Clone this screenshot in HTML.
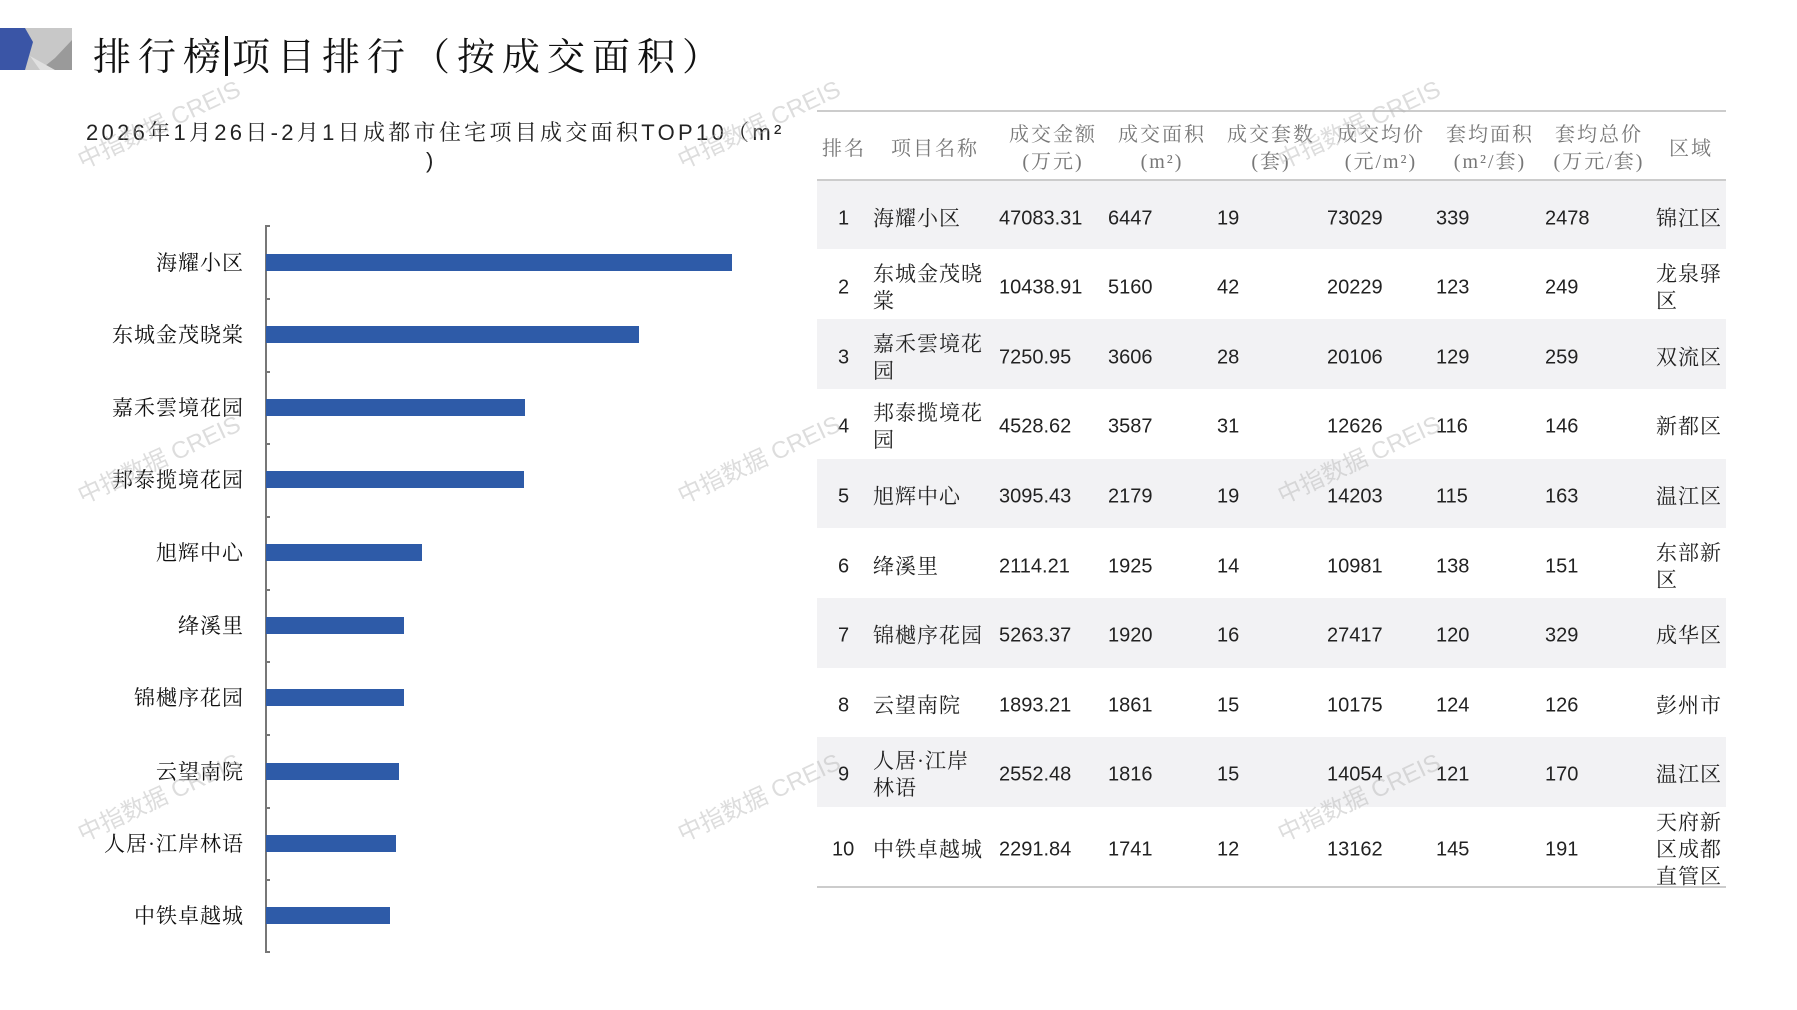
<!DOCTYPE html>
<html><head><meta charset="utf-8"><style>
body{margin:0;width:1797px;height:1010px;background:#fff;position:relative;overflow:hidden;font-family:"Liberation Sans","Noto Serif CJK SC","Noto Sans CJK SC",serif;}
.a{position:absolute;white-space:nowrap;}
.lbl{position:absolute;right:1553px;font-size:21px;letter-spacing:1px;color:#111;transform:translateY(-50%);font-family:"Liberation Serif","Noto Serif CJK SC",serif;}
.bar{position:absolute;left:266px;height:17px;background:#2e5ba8;}
.tk{position:absolute;left:265px;width:5px;height:1.5px;background:#777;}
.row{position:absolute;left:817px;width:909px;}
.c{position:absolute;font-size:20px;color:#222;transform:translateY(-50%);}
.h{position:absolute;font-size:20px;letter-spacing:2px;color:#777;text-align:center;line-height:27px;transform:translateX(-50%);font-family:"Liberation Serif","Noto Serif CJK SC",serif;}
.wm{position:absolute;font-size:24px;color:rgba(180,180,180,0.45);transform:rotate(-25deg);font-family:"Liberation Sans","Noto Sans CJK SC",sans-serif;}
</style></head><body>
<svg class="a" style="left:0;top:28px" width="72" height="42"><rect x="20" y="0" width="52" height="42" fill="#c8c8c8"/><polygon points="40,42 72,42 72,12 55,30" fill="#9a9a9a"/><polygon points="30,28 55,42 40,42" fill="#e0e0e0"/><polygon points="0,0 25,0 33,14 25,42 0,42" fill="#3a55a6"/></svg>
<div class="a" style="left:93px;top:26px;font-size:38px;letter-spacing:7px;color:#111;font-family:'Liberation Serif','Noto Serif CJK SC',serif;">排行榜<span style="display:inline-block;width:3px;height:40px;background:#111;vertical-align:-6px;margin:0 4px 0 -3px"></span>项目排行（按成交面积）</div>
<div class="a" style="left:86px;top:116px;font-size:22px;letter-spacing:3.3px;color:#222;font-family:'Liberation Sans','Noto Serif CJK SC',serif;">2026年1月26日-2月1日成都市住宅项目成交面积TOP10（m²</div>
<div class="a" style="left:426px;top:148px;font-size:22px;color:#222;">)</div>
<div class="a" style="left:265px;top:225px;width:1.5px;height:727px;background:#777"></div>
<div class="tk" style="top:225px"></div><div class="tk" style="top:298px"></div><div class="tk" style="top:371px"></div><div class="tk" style="top:443px"></div><div class="tk" style="top:516px"></div><div class="tk" style="top:589px"></div><div class="tk" style="top:661px"></div><div class="tk" style="top:734px"></div><div class="tk" style="top:807px"></div><div class="tk" style="top:879px"></div><div class="tk" style="top:951px"></div>
<div class="bar" style="top:254px;width:466px"></div><div class="lbl" style="top:262px">海耀小区</div>
<div class="bar" style="top:326px;width:373px"></div><div class="lbl" style="top:334px">东城金茂晓棠</div>
<div class="bar" style="top:399px;width:259px"></div><div class="lbl" style="top:407px">嘉禾雲境花园</div>
<div class="bar" style="top:471px;width:258px"></div><div class="lbl" style="top:479px">邦泰揽境花园</div>
<div class="bar" style="top:544px;width:156px"></div><div class="lbl" style="top:552px">旭辉中心</div>
<div class="bar" style="top:617px;width:138px"></div><div class="lbl" style="top:625px">绛溪里</div>
<div class="bar" style="top:689px;width:138px"></div><div class="lbl" style="top:697px">锦樾序花园</div>
<div class="bar" style="top:763px;width:133px"></div><div class="lbl" style="top:771px">云望南院</div>
<div class="bar" style="top:835px;width:130px"></div><div class="lbl" style="top:843px">人居·江岸林语</div>
<div class="bar" style="top:907px;width:124px"></div><div class="lbl" style="top:915px">中铁卓越城</div>

<div class="a" style="left:817px;top:110px;width:909px;height:2px;background:#ccc"></div>
<div class="a" style="left:817px;top:179px;width:909px;height:2px;background:#ccc"></div>
<div class="h" style="left:844px;top:136px">排名</div>
<div class="h" style="left:935px;top:136px">项目名称</div>
<div class="h" style="left:1053px;top:122px">成交金额<br>(万元)</div>
<div class="h" style="left:1162px;top:122px">成交面积<br>(m²)</div>
<div class="h" style="left:1271px;top:122px">成交套数<br>(套)</div>
<div class="h" style="left:1381px;top:122px">成交均价<br>(元/m²)</div>
<div class="h" style="left:1490px;top:122px">套均面积<br>(m²/套)</div>
<div class="h" style="left:1599px;top:122px">套均总价<br>(万元/套)</div>
<div class="h" style="left:1691px;top:136px">区域</div>

<div class="row" style="top:181px;height:68px;background:#f2f2f4"></div>
<div class="row" style="top:319px;height:70px;background:#f2f2f4"></div>
<div class="row" style="top:459px;height:69px;background:#f2f2f4"></div>
<div class="row" style="top:598px;height:70px;background:#f2f2f4"></div>
<div class="row" style="top:737px;height:70px;background:#f2f2f4"></div>
<div class="a" style="left:817px;top:886px;width:909px;height:2px;background:#ccc"></div>

<div id="rows"></div>
<script>
var d=[["1","海耀小区","47083.31","6447","19","73029","339","2478","锦江区"],
["2","东城金茂晓<br>棠","10438.91","5160","42","20229","123","249","龙泉驿<br>区"],
["3","嘉禾雲境花<br>园","7250.95","3606","28","20106","129","259","双流区"],
["4","邦泰揽境花<br>园","4528.62","3587","31","12626","116","146","新都区"],
["5","旭辉中心","3095.43","2179","19","14203","115","163","温江区"],
["6","绛溪里","2114.21","1925","14","10981","138","151","东部新<br>区"],
["7","锦樾序花园","5263.37","1920","16","27417","120","329","成华区"],
["8","云望南院","1893.21","1861","15","10175","124","126","彭州市"],
["9","人居·江岸<br>林语","2552.48","1816","15","14054","121","170","温江区"],
["10","中铁卓越城","2291.84","1741","12","13162","145","191","天府新<br>区成都<br>直管区"]];
var xs=[0,873,999,1108,1217,1327,1436,1545,1656],h="";
for(var i=0;i<10;i++){var y=i<9?218.5+i*69.6:850;
for(var j=0;j<9;j++){var l=j==0?'left:'+(844-(d[i][0].length*6))+'px':'left:'+xs[j]+'px';
h+='<div class="c" style="'+l+';top:'+y+'px;line-height:27px;'+((j==1||j==8)?'font-family:\'Liberation Serif\',\'Noto Serif CJK SC\',serif;font-size:21px;letter-spacing:1px;':'')+'">'+d[i][j]+'</div>';}}
document.getElementById('rows').innerHTML=h;
</script>
<div class="wm" style="left:70px;top:105px">中指数据 CREIS</div>
<div class="wm" style="left:670px;top:105px">中指数据 CREIS</div>
<div class="wm" style="left:1270px;top:105px">中指数据 CREIS</div>
<div class="wm" style="left:70px;top:440px">中指数据 CREIS</div>
<div class="wm" style="left:670px;top:440px">中指数据 CREIS</div>
<div class="wm" style="left:1270px;top:440px">中指数据 CREIS</div>
<div class="wm" style="left:70px;top:778px">中指数据 CREIS</div>
<div class="wm" style="left:670px;top:778px">中指数据 CREIS</div>
<div class="wm" style="left:1270px;top:778px">中指数据 CREIS</div>
</body></html>
